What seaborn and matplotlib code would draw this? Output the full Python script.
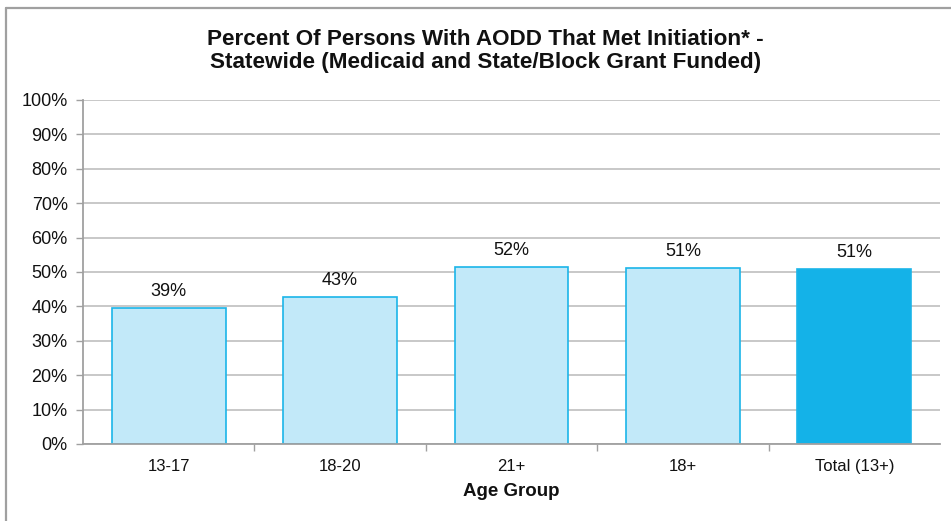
import matplotlib
matplotlib.use("Agg")
import matplotlib.pyplot as plt
import seaborn as sns
import pandas as pd
from matplotlib.lines import Line2D

categories = ["13-17", "18-20", "21+", "18+", "Total (13+)"]
values = [0.394, 0.426, 0.515, 0.512, 0.509]
labels = ["39%", "43%", "52%", "51%", "51%"]
yticklabels = ["0%", "10%", "20%", "30%", "40%", "50%", "60%", "70%", "80%", "90%", "100%"]

sns.set_theme(style="white")
plt.rcParams["font.family"] = ["Liberation Sans", "DejaVu Sans"]

df = pd.DataFrame({"cat": categories, "val": values})

fig = plt.figure(figsize=(9.51, 5.21), dpi=100)
ax = fig.add_axes([83 / 951, 1 - 444 / 521, (940 - 83) / 951, (444 - 100) / 521])

light = "#C2E9F9"
dark = "#14B2E8"
edge = "#1BB5E9"
palette = [light, light, light, light, dark]
sns.barplot(data=df, x="cat", y="val", hue="cat", palette=palette, legend=False,
            width=0.665, ax=ax, edgecolor=edge, linewidth=1.2, saturation=1)

ax.set_ylim(0, 1)
ax.set_xlim(-0.5, len(categories) - 0.5)
ax.set_yticks([i / 10 for i in range(11)])
ax.set_yticklabels(yticklabels, fontsize=13, color="#111111")
ax.set_axisbelow(True)
ax.yaxis.grid(True, color="#BFBFBF", linewidth=1.2)
ax.xaxis.grid(False)

# x ticks at category boundaries, labels centred
ax.set_xticks([i + 0.5 for i in range(len(categories) - 1)])
ax.set_xticklabels([])
ax.set_xticks(range(len(categories)), minor=True)
ax.set_xticklabels(categories, minor=True, fontsize=12, color="#111111")
ax.tick_params(axis="x", which="major", length=5, color="#A0A0A0", width=1, direction="out", bottom=True)
ax.tick_params(axis="x", which="minor", length=0, pad=11)
ax.tick_params(axis="y", length=5, color="#A0A0A0", width=1, direction="out", left=True, pad=6)

for s in ["top", "right"]:
    ax.spines[s].set_visible(False)
for s in ["left", "bottom"]:
    ax.spines[s].set_color("#A0A0A0")
    ax.spines[s].set_linewidth(1.3)

for p, lab in zip(ax.patches, labels):
    ax.annotate(lab, (p.get_x() + p.get_width() / 2, p.get_height()),
                xytext=(0, 6), textcoords="offset points", ha="center", va="bottom",
                fontsize=13, color="#111111")

ax.set_xlabel("Age Group", fontsize=13.5, fontweight="bold", labelpad=6, color="#111111")
ax.set_ylabel("")

fig.text((200 + 771) / 2 / 951, 1 - 51 / 521,
         "Percent Of Persons With AODD That Met Initiation* -\nStatewide (Medicaid and State/Block Grant Funded)",
         ha="center", va="center", fontsize=16.2, fontweight="bold", color="#111111",
         linespacing=1.08)

# chart border (left and top visible)
fig.add_artist(Line2D([6 / 951, 6 / 951], [0, 1 - 7.5 / 521], transform=fig.transFigure,
                      color="#A0A0A0", linewidth=1.6))
fig.add_artist(Line2D([6 / 951, 1], [1 - 7.5 / 521, 1 - 7.5 / 521], transform=fig.transFigure,
                      color="#A0A0A0", linewidth=1.6))

fig.savefig("out.png", dpi=100)
